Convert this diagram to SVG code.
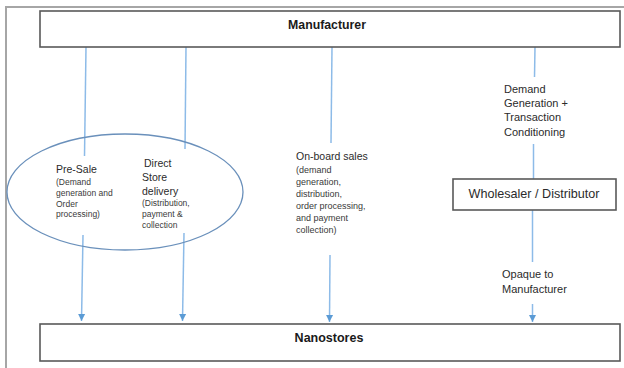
<svg xmlns="http://www.w3.org/2000/svg" width="624" height="368" viewBox="0 0 624 368">
<style>
  .frame { fill: none; stroke: #a6a6a6; stroke-width: 2; }
  .box { fill: #ffffff; stroke: #595959; stroke-width: 1.6; }
  .title { font-family: "Liberation Sans", Arial, sans-serif; font-weight: bold; fill: #1a1a1a; text-anchor: middle; }
  .lbl { font-family: "Liberation Sans", Arial, sans-serif; fill: #2b2b2b; }
  .sm { font-family: "Liberation Sans", Arial, sans-serif; fill: #3a3a3a; }
  .conn { fill: none; stroke: #8dbbe8; stroke-width: 1.5; }
  .ell { fill: none; stroke: #6a90bb; stroke-width: 1.3; }
</style>
<defs>
  <marker id="arrow" markerUnits="userSpaceOnUse" markerWidth="8" markerHeight="8" refX="7" refY="4" orient="auto">
    <path d="M0,0.5 L7,4 L0,7.5 Z" fill="#5b9bd5"/>
  </marker>
</defs>
<rect width="624" height="368" fill="#ffffff"/>
<path class="frame" d="M6,368 L6,7 L624,7"/>

<g id="connectors">
  <path class="conn" d="M86,47 L84.5,156"/>
  <path class="conn" d="M83,235 L81.5,321" marker-end="url(#arrow)"/>
  <path class="conn" d="M186,47 L185,149"/>
  <path class="conn" d="M184,233 L182.5,321" marker-end="url(#arrow)"/>
  <path class="conn" d="M332,47 L331,143"/>
  <path class="conn" d="M330,255 L329.5,322" marker-end="url(#arrow)"/>
  <path class="conn" d="M535,47 L534.5,77"/>
  <path class="conn" d="M533.5,144 L533.5,179"/>
  <path class="conn" d="M532.5,210 L532.5,262"/>
  <path class="conn" d="M532.5,304 L532.5,322" marker-end="url(#arrow)"/>
</g>

<g id="manufacturer">
  <rect class="box" x="40" y="11" width="580" height="36"/>
  <text class="title" x="327" y="29" font-size="12.3">Manufacturer</text>
</g>

<g id="nanostores">
  <rect class="box" x="40" y="324" width="580" height="37"/>
  <text class="title" x="329" y="342" font-size="12.5">Nanostores</text>
</g>

<g id="wholesaler">
  <rect class="box" x="453" y="179" width="163" height="31"/>
  <text class="lbl" x="534" y="198" font-size="12.6" text-anchor="middle">Wholesaler / Distributor</text>
</g>

<g id="direct-channel">
  <ellipse class="ell" cx="125" cy="192" rx="118" ry="58"/>
  <text class="lbl" x="56" y="173" font-size="10.5">Pre-Sale</text>
  <text class="sm" font-size="8.5">
    <tspan x="56" y="185">(Demand</tspan>
    <tspan x="56" y="195.5">generation and</tspan>
    <tspan x="56" y="206.5">Order</tspan>
    <tspan x="56" y="217">processing)</tspan>
  </text>
  <text class="lbl" font-size="10.5">
    <tspan x="144" y="167">Direct</tspan>
    <tspan x="142" y="181">Store</tspan>
    <tspan x="142" y="195">delivery</tspan>
  </text>
  <text class="sm" font-size="8.5">
    <tspan x="142" y="206">(Distribution,</tspan>
    <tspan x="142" y="217">payment &amp;</tspan>
    <tspan x="142" y="228">collection</tspan>
  </text>
</g>

<g id="onboard-label">
  <text class="lbl" x="296" y="160" font-size="10.5">On-board sales</text>
  <text class="sm" font-size="9">
    <tspan x="296" y="172.5">(demand</tspan>
    <tspan x="296" y="184.5">generation,</tspan>
    <tspan x="296" y="196.5">distribution,</tspan>
    <tspan x="296" y="208.5">order processing,</tspan>
    <tspan x="296" y="220.5">and payment</tspan>
    <tspan x="296" y="232.5">collection)</tspan>
  </text>
</g>

<g id="demand-label">
  <text class="lbl" font-size="11">
    <tspan x="504" y="93">Demand</tspan>
    <tspan x="504" y="107">Generation +</tspan>
    <tspan x="504" y="121">Transaction</tspan>
    <tspan x="504" y="136">Conditioning</tspan>
  </text>
</g>

<g id="opaque-label">
  <text class="lbl" font-size="11">
    <tspan x="502" y="278">Opaque to</tspan>
    <tspan x="502" y="293">Manufacturer</tspan>
  </text>
</g>
</svg>
